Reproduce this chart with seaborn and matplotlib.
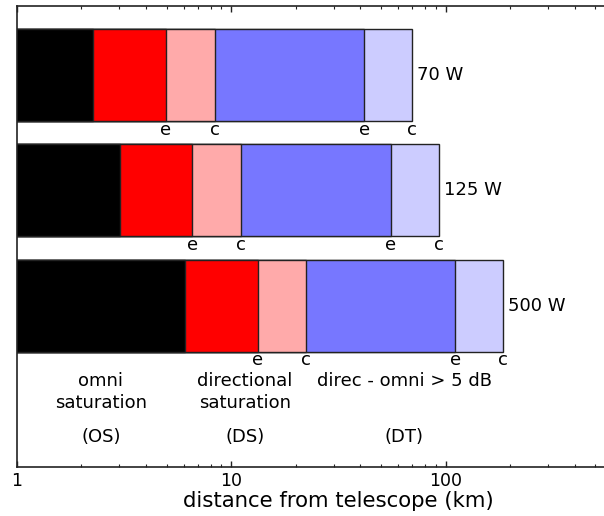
import pandas as pd
import matplotlib
matplotlib.use("Agg")
import matplotlib.pyplot as plt
import matplotlib.ticker as mticker
import seaborn as sns

# transmitter powers and zone boundaries (km)
powers = ["70 W", "125 W", "500 W"]
os_end = [2.26, 3.04, 6.06]      # omni saturation
ds_e = [4.95, 6.59, 13.27]       # directional saturation, edge
ds_c = [8.35, 11.07, 22.2]       # directional saturation, centre
dt_e = [41.7, 55.4, 111.0]       # direc - omni > 5 dB, edge
dt_c = [69.7, 93.1, 186.0]       # direc - omni > 5 dB, centre

zone_names = ["OS", "DS_e", "DS_c", "DT_e", "DT_c"]
zone_ends = [os_end, ds_e, ds_c, dt_e, dt_c]
zone_colors = ["#000000", "#ff0000", "#ffaaaa", "#7777ff", "#ccccff"]

bottom_labels = ["omni\nsaturation", "directional\nsaturation", "direc - omni > 5 dB"]
bottom_tags = ["(OS)", "(DS)", "(DT)"]
major_ticks = [1, 10, 100]

rows = []
for name, ends in zip(zone_names, zone_ends):
    for p, v in zip(powers, ends):
        rows.append({"zone": name, "power": p, "end": v})
df = pd.DataFrame(rows)

sns.set_style("ticks")
plt.rcParams["font.family"] = ["DejaVu Sans"]
plt.rcParams["text.color"] = "black"
plt.rcParams["axes.labelcolor"] = "black"
plt.rcParams["xtick.color"] = "black"

fig = plt.figure(figsize=(6.04, 5.16), dpi=100)
# right end of axes (1000 km) lies past the figure edge, like the cropped original
ax = fig.add_axes([0.0281, 0.095, 1.0645, 0.8934])
ax.set_xscale("log")

# draw cumulative bars from the farthest zone inwards so they look stacked
for name, col in reversed(list(zip(zone_names, zone_colors))):
    sub = df[df["zone"] == name]
    sns.barplot(data=sub, x="end", y="power", order=powers, orient="h",
                color=col, saturation=1, width=0.8, edgecolor="#222222",
                linewidth=1, ax=ax)

ax.set_xlim(1, 1000)
ax.set_ylim(3.4, -0.6)
ax.set_yticks([])
ax.set_ylabel("")
ax.set_xlabel("distance from telescope (km)", fontsize=15.3, labelpad=1)

ax.set_xticks(major_ticks)
ax.xaxis.set_major_formatter(mticker.FuncFormatter(lambda v, p: f"{v:g}"))
ax.xaxis.set_minor_formatter(mticker.NullFormatter())
ax.tick_params(axis="x", which="both", direction="in", top=True, bottom=True,
               labelsize=12.5, color="#222222", labelcolor="black")
ax.tick_params(axis="x", which="major", length=4, width=1)
ax.tick_params(axis="x", which="minor", length=2.5, width=0.8)
for s in ax.spines.values():
    s.set_color("#222222")
    s.set_linewidth(1.2)

# power labels at the end of each bar, e/c marks under the boundaries
for i, p in enumerate(powers):
    ax.text(dt_c[i] * 1.055, i, p, ha="left", va="center", fontsize=13)
    for x, t in zip([ds_e[i], ds_c[i], dt_e[i], dt_c[i]], ["e", "c", "e", "c"]):
        ax.text(x, i + 0.475, t, ha="center", va="center", fontsize=13)

# zone labels, centred (geometric mean) under the 500 W bar
bounds = [1.0, os_end[2], ds_c[2], dt_c[2]]
for k in range(3):
    xc = (bounds[k] * bounds[k + 1]) ** 0.5
    ax.text(xc, 2.576, bottom_labels[k], ha="center", va="top", fontsize=13,
            linespacing=1.25)
    ax.text(xc, 3.137, bottom_tags[k], ha="center", va="center", fontsize=13)

fig.savefig("out.png", dpi=100)
